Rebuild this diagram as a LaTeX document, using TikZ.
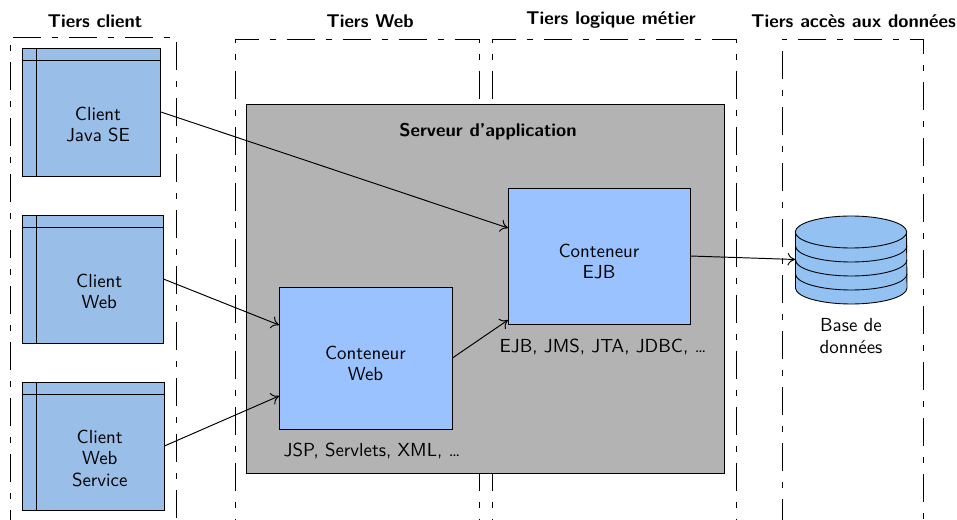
\documentclass[tikz,border=0pt]{standalone}
\usetikzlibrary{arrows.meta}
\definecolor{clientblue}{HTML}{99BEE8}
\definecolor{contblue}{HTML}{99C2FF}
\definecolor{bddblue}{HTML}{92C1F2}
\definecolor{servgray}{HTML}{B3B3B3}
\tikzset{
    tierline/.style={line width=.45pt, dash pattern=on .56cm off .22cm on .12cm off .22cm},
    tiertitle/.style={font=\fontsize{10.5}{12.2}\selectfont\sffamily\bfseries},
    tiertext/.style={font=\fontsize{10.75}{12.2}\selectfont\sffamily, align=center},
    liaison/.style={-{To[length=1.5mm,width=2.5mm]}, line width=.55pt},
    clientbox/.style={draw, line width=.5pt, fill=clientblue, inner sep=0, minimum height=2.56cm,
        path picture={
            \draw[line width=.5pt] ([xshift=.27cm]path picture bounding box.north west) -- ([xshift=.27cm]path picture bounding box.south west);
            \draw[line width=.5pt] ([yshift=-.25cm]path picture bounding box.north west) -- ([yshift=-.25cm]path picture bounding box.north east);
        }},
    clienttext/.style={tiertext, xshift=.13cm, yshift=-.25cm},
    contbox/.style={draw, line width=.5pt, fill=contblue, inner sep=0},
    conttext/.style={tiertext, yshift=-.11cm}
}
\begin{document}
\begin{tikzpicture}[x=.02cm,y=-.02cm]
    \clip (0,0) rectangle (957,520);

    % tiers
    \draw[tierline] (10,538)  rectangle (176,37);
    \draw[tierline] (235,547) rectangle (479,39);
    \draw[tierline] (492,547) rectangle (736,39);
    \draw[tierline] (782,527) rectangle (923,39);
    \node[tiertitle] (tclient) at (95,21)  {Tiers client};
    \node[tiertitle] (tweb)    at (370,21) {Tiers Web};
    \node[tiertitle] (tmetier) at (611,20) {Tiers logique métier};
    \node[tiertitle] (tdonnees) at (853.5,21) {Tiers accès aux données};

    % clients
    \node[clientbox, minimum width=2.76cm, label={[clienttext]center:Client\\Java SE}] (cjava) at (91.5,112) {};
    \node[clientbox, minimum width=2.81cm, label={[clienttext]center:Client\\Web}] (cweb) at (92.75,279) {};
    \node[clientbox, minimum width=2.83cm, label={[clienttext]center:Client\\Web\\Service}] (cservice) at (93.25,446) {};

    % serveur
    \node[draw, line width=.5pt, fill=servgray, inner sep=0, minimum width=9.56cm, minimum height=7.38cm] (serveur) at (485,288.5) {};
    \node[tiertitle] (tserveur) at (488,131.5) {Serveur d’application};
    \node[contbox, minimum width=3.46cm, minimum height=2.84cm, label={[conttext]center:Conteneur\\Web}] (contweb) at (365.5,358) {};
    \node[contbox, minimum width=3.64cm, minimum height=2.72cm, label={[conttext]center:Conteneur\\EJB}] (contejb) at (599,256) {};
    \node[tiertext] (techweb) at (372,451) {JSP, Servlets, XML, \dots};
    \node[tiertext] (techejb) at (603,347) {EJB, JMS, JTA, JDBC, \dots};

    % base de donnees
    \draw[line width=.5pt, fill=bddblue] (795.5,232) -- (795.5,288) arc[x radius=1.115cm, y radius=.32cm, start angle=180, end angle=360] -- (906.5,232) -- cycle;
    \draw[line width=.5pt, fill=bddblue] (851,232) ellipse [x radius=1.115cm, y radius=.32cm];
    \foreach \y in {246,260,274}
        \draw[line width=.5pt] (795.5,\y) arc[x radius=1.115cm, y radius=.32cm, start angle=180, end angle=360];
    \node[inner sep=0, minimum width=2.22cm, minimum height=1.76cm] (bdd) at (851,259.5) {};
    \node[tiertext] (tbdd) at (851,336) {Base de\\données};

    % liaisons
    \coordinate (ejbhaut) at (508,228);
    \coordinate (ejbbas)  at (508,320);
    \coordinate (webhaut) at (279,325);
    \coordinate (webbas)  at (279,396);
    \draw[liaison] (cjava.east) -- (ejbhaut);
    \draw[liaison] (cweb.east) -- (webhaut);
    \draw[liaison] (cservice.east) -- (webbas);
    \draw[liaison] (contweb.east) -- (ejbbas);
    \draw[liaison] (contejb.east) -- (bdd.west);
\end{tikzpicture}
\end{document}
